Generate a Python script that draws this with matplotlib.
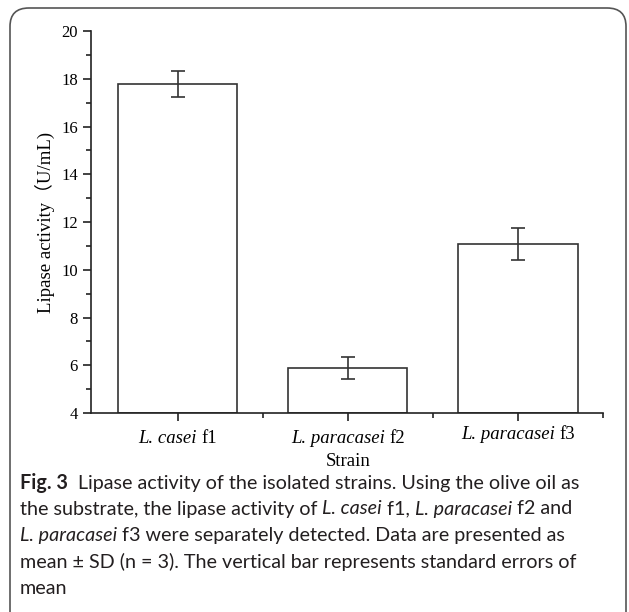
import matplotlib.pyplot as plt
from matplotlib.patches import FancyBboxPatch
from matplotlib.ticker import MultipleLocator

strains = ["L. casei", "L. paracasei", "L. paracasei"]
suffix = ["f1", "f2", "f3"]
activity = [17.78, 5.88, 11.08]
errors = [0.56, 0.46, 0.66]

serif = ["Liberation Serif", "Noto Sans CJK SC"]
cap_font = "Lato"

fig = plt.figure(figsize=(6.29, 6.12), dpi=100)
ax = fig.add_axes([0.1447, 0.3252, 0.814, 0.624])

x = range(len(strains))
ax.bar(x, [a - 4 for a in activity], bottom=4, width=0.7, color="white",
       edgecolor="#333333", linewidth=1.2)
ax.errorbar(x, activity, yerr=errors, fmt="none", ecolor="#333333",
            elinewidth=1.2, capsize=5, capthick=1.2)

ax.set_xlim(-0.51, 2.5)
ax.set_ylim(4, 20)
ax.yaxis.set_major_locator(MultipleLocator(2))
ax.yaxis.set_minor_locator(MultipleLocator(1))
ax.set_xticks(list(x))
ax.set_xticks([0.5, 1.5, 2.5], minor=True)
ax.set_xticklabels([])
for s in ["top", "right"]:
    ax.spines[s].set_visible(False)
for s in ["left", "bottom"]:
    ax.spines[s].set_linewidth(1.2)
    ax.spines[s].set_color("#222222")
ax.tick_params(which="major", length=6, width=1.2, color="#222222", labelsize=12)
ax.tick_params(which="minor", length=3.5, width=1.2, color="#222222")
for lab in ax.get_yticklabels():
    lab.set_family(serif)

# category labels: italic genus/species + upright strain code
fig.canvas.draw()
renderer = fig.canvas.get_renderer()
for i, (name, suf) in enumerate(zip(strains, suffix)):
    px = ax.transData.transform((i, 4))[0]
    t1 = fig.text(0, 0, name + " ", fontsize=13.5, style="italic", family=serif)
    t2 = fig.text(0, 0, suf, fontsize=13.5, family=serif)
    w1 = t1.get_window_extent(renderer).width
    w2 = t2.get_window_extent(renderer).width
    x0 = px - (w1 + w2) / 2
    yy = 612 - 443
    if i == 2:
        yy += 4
    t1.set_position((x0 / 629, yy / 612))
    t2.set_position(((x0 + w1) / 629, yy / 612))

fig.text(348 / 629, 1 - 461 / 612, "Strain", fontsize=13.5, family=serif,
         ha="center", va="center")
fig.text(45 / 629, 1 - 222 / 612, "Lipase activity（U/mL)", fontsize=13.5,
         family=serif, rotation=90, ha="center", va="center")

# caption
lines = [
    [("Fig. 3", "bold", "normal"), ("  Lipase activity of the isolated strains. Using the olive oil as", "normal", "normal")],
    [("the substrate, the lipase activity of ", "normal", "normal"), ("L. casei", "normal", "italic"),
     (" f1, ", "normal", "normal"), ("L. paracasei", "normal", "italic"), (" f2 and", "normal", "normal")],
    [("L. paracasei", "normal", "italic"), (" f3 were separately detected. Data are presented as", "normal", "normal")],
    [("mean ± SD (n = 3). The vertical bar represents standard errors of", "normal", "normal")],
    [("mean", "normal", "normal")],
]
ys = [483, 509, 536, 562, 588]
for segs, yl in zip(lines, ys):
    xc = 20
    for txt, wt, st in segs:
        t = fig.text(xc / 629, 1 - yl / 612, txt, fontsize=14.2, family=cap_font,
                     weight=wt, style=st, va="center", color="#231f20")
        xc += t.get_window_extent(renderer).width

# rounded frame
frame = FancyBboxPatch((10 / 629, -20 / 612), 616 / 629, 624 / 612,
                       boxstyle="round,pad=0,rounding_size=0.03",
                       transform=fig.transFigure, fill=False,
                       edgecolor="#555555", linewidth=1.2)
fig.patches.append(frame)

fig.savefig("out.png", dpi=100)
